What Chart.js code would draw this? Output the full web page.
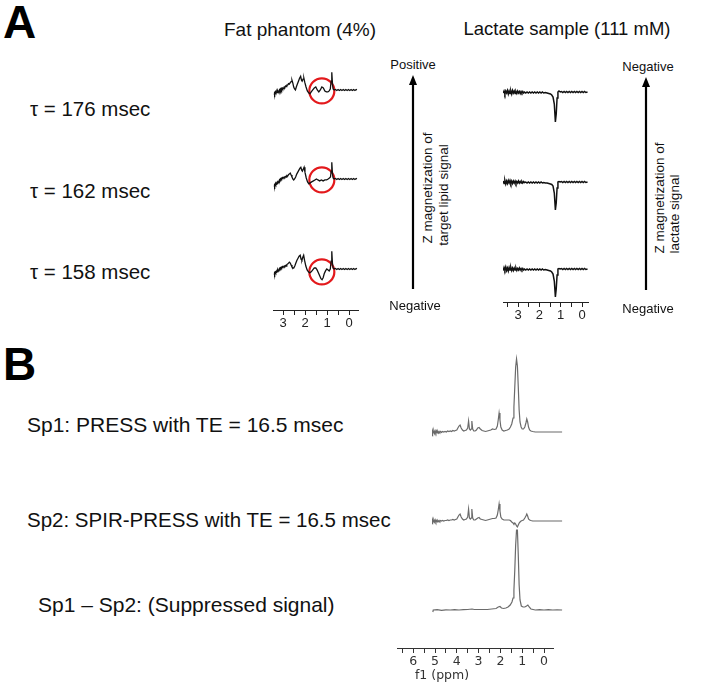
<!DOCTYPE html>
<html><head><meta charset="utf-8">
<script src="https://cdn.jsdelivr.net/npm/chart.js@4.4.0/dist/chart.umd.min.js"></script>
<style>
html,body{margin:0;padding:0;background:#fff;}
#root{position:relative;width:709px;height:683px;overflow:hidden;font-family:"Liberation Sans",Arial,sans-serif;color:#111;}
.t{position:absolute;white-space:nowrap;line-height:1;}
canvas{position:absolute;}
svg{position:absolute;left:0;top:0;}
</style></head><body><div id="root"></div>
<script>
// ---------------- DATA ----------------
const axisTicksA = [3, 2, 1, 0];
const axisTicksB = [6, 5, 4, 3, 2, 1, 0];
const tauLabels = ["τ = 176 msec", "τ = 162 msec", "τ = 158 msec"];
const sampleTitles = ["Fat phantom (4%)", "Lactate sample (111 mM)"];
const bLabels = ["Sp1: PRESS with TE = 16.5 msec", "Sp2: SPIR-PRESS with TE = 16.5 msec", "Sp1 – Sp2: (Suppressed signal)"];

// Fat phantom spectra [ppm, intensity]
const fat176 = [[3.45,-5],[3.43,-3.5],[3.41,-4.5],[3.39,-2.5],[3.37,-3.5],[3.35,-2],[3.33,-3],[3.31,-1.5],[3.29,-2.5],[3.27,-1],[3.25,-2],[3.23,-0.5],[3.21,-1.5],[3.19,0],[3.17,-1],[3.15,0.5],[3.13,-0.5],[3.11,1],[3.09,0],[3.07,1.5],[3.05,0.5],[3.03,2],[3.00,1.5],[2.97,3],[2.94,2.5],[2.91,4],[2.88,3.5],[2.85,5],[2.81,5],[2.77,6.5],[2.73,6],[2.69,7.5],[2.65,8.5],[2.61,10],[2.57,7],[2.53,3],[2.49,1],[2.45,0],[2.41,3],[2.36,6],[2.31,9],[2.26,12],[2.21,14],[2.17,10],[2.14,9],[2.10,11],[2.06,12],[2.02,8],[1.96,3],[1.90,-1],[1.84,-3],[1.78,-4],[1.72,-2],[1.65,0],[1.58,2],[1.51,3],[1.44,0],[1.37,-2],[1.30,0],[1.23,3],[1.16,2],[1.09,-1],[1.02,-2],[0.95,-2],[0.89,-1],[0.84,1],[0.80,9],[0.77,18],[0.74,7],[0.71,1],[0.66,0],[0.60,0.5],[0.54,-0.5],[0.48,0.5],[0.42,-0.5],[0.36,0.5],[0.30,-0.5],[0.24,0.5],[0.18,-0.5],[0.12,0.5],[0.06,-0.5],[0.00,0.5],[-0.06,-0.5],[-0.12,0.5],[-0.18,-0.5],[-0.24,0.5],[-0.30,-0.5],[-0.36,0.5],[-0.40,0]];
const fat162 = [[3.45,-8],[3.43,-6.5],[3.41,-7.5],[3.39,-5.5],[3.37,-6.5],[3.35,-4.5],[3.33,-5.5],[3.31,-4],[3.29,-4.5],[3.27,-3],[3.25,-3.5],[3.23,-2],[3.21,-2.5],[3.19,-1],[3.17,-1.5],[3.15,0],[3.13,-0.5],[3.11,0.5],[3.09,0],[3.07,1],[3.05,0.5],[3.03,1.5],[3.00,1],[2.97,2],[2.94,1.5],[2.91,2.5],[2.88,2],[2.85,3.5],[2.81,3],[2.77,4.5],[2.73,5],[2.69,6],[2.65,4],[2.61,2],[2.57,0],[2.53,-1],[2.49,0],[2.44,2],[2.39,5],[2.34,7],[2.29,9],[2.24,11],[2.20,12],[2.16,9],[2.13,8],[2.09,10],[2.05,12],[2.01,7],[1.95,1],[1.89,-3],[1.83,-5],[1.77,-4],[1.70,-3],[1.62,-2],[1.55,-1],[1.48,0],[1.41,-1],[1.33,-2],[1.25,-1],[1.17,-2],[1.09,-1],[1.01,-1],[0.94,0],[0.88,1],[0.83,2],[0.80,8],[0.77,17],[0.74,6],[0.71,1],[0.66,0],[0.60,0.5],[0.54,-0.5],[0.48,0.5],[0.42,-0.5],[0.36,0.5],[0.30,-0.5],[0.24,0.5],[0.18,-0.5],[0.12,0.5],[0.06,-0.5],[0.00,0.5],[-0.06,-0.5],[-0.12,0.5],[-0.18,-0.5],[-0.24,0.5],[-0.30,-0.5],[-0.36,0.5],[-0.40,0]];
const fat158 = [[3.45,-6],[3.43,-4.5],[3.41,-5.5],[3.39,-3.5],[3.37,-4.5],[3.35,-3],[3.33,-3.5],[3.31,-2],[3.29,-2.5],[3.27,-1],[3.25,-2],[3.23,-0.5],[3.21,-1],[3.19,0.5],[3.17,0],[3.15,1],[3.13,0.5],[3.11,1.5],[3.09,1],[3.07,2],[3.05,1.5],[3.03,2.5],[3.00,2],[2.97,3],[2.94,2.5],[2.91,3.5],[2.88,3],[2.85,4.5],[2.81,5],[2.77,6],[2.73,7],[2.69,6],[2.65,4],[2.61,2],[2.57,1],[2.53,1],[2.48,3],[2.43,6],[2.38,9],[2.33,11],[2.28,13],[2.23,14],[2.19,10],[2.15,9],[2.11,12],[2.07,14],[2.03,9],[1.97,3],[1.91,-1],[1.85,-3],[1.79,-4],[1.72,-3],[1.65,-1],[1.58,1],[1.51,1],[1.45,-1],[1.39,-4],[1.33,-7],[1.27,-10],[1.22,-11],[1.17,-9],[1.12,-5],[1.06,-2],[1.00,0],[0.94,-1],[0.89,-2],[0.84,0],[0.80,8],[0.77,18],[0.74,6],[0.71,1],[0.66,0],[0.60,0.5],[0.54,-0.5],[0.48,0.5],[0.42,-0.5],[0.36,0.5],[0.30,-0.5],[0.24,0.5],[0.18,-0.5],[0.12,0.5],[0.06,-0.5],[0.00,0.5],[-0.06,-0.5],[-0.12,0.5],[-0.18,-0.5],[-0.24,0.5],[-0.30,-0.5],[-0.36,0.5],[-0.40,0]];
// red circles marking the target lipid signal [ppm, intensity]
const circle176 = [[1.23,-1]];
const circle162 = [[1.23,-1]];
const circle158 = [[1.23,-3]];

// Lactate spectra [ppm, intensity]
const lac176 = [[3.70,-1],[3.66,1],[3.62,-2],[3.58,1],[3.54,-1],[3.50,1.5],[3.46,-2],[3.42,1],[3.38,-1.5],[3.34,1],[3.30,-2],[3.26,1.5],[3.22,-1],[3.18,1],[3.14,-1.5],[3.10,0.5],[3.06,-1.5],[3.02,1],[2.98,-1],[2.94,0.5],[2.90,-1.5],[2.86,0.5],[2.82,-1],[2.78,0.5],[2.74,-1],[2.70,0],[2.64,-1],[2.58,0],[2.52,-1],[2.46,0],[2.40,-1],[2.34,0],[2.28,-1],[2.22,0],[2.16,-1],[2.10,0],[2.04,-1],[1.98,0],[1.92,-1],[1.86,0],[1.80,-1],[1.72,-0.5],[1.64,-1],[1.56,-1.5],[1.48,-2],[1.42,-3],[1.36,-5],[1.30,-12],[1.25,-30],[1.21,-22],[1.17,-6],[1.13,0],[1.08,1],[1.02,0],[0.96,0.5],[0.90,-0.5],[0.84,0.5],[0.78,-0.5],[0.72,0.5],[0.66,-0.5],[0.60,0.5],[0.54,-0.5],[0.48,0.5],[0.42,-0.5],[0.36,0.5],[0.30,-0.5],[0.24,0.5],[0.18,-0.5],[0.12,0.5],[0.06,-0.5],[0.00,0.5],[-0.06,-0.5],[-0.12,0.5],[-0.18,-0.5],[-0.26,0]];
const lac162 = [[3.70,1],[3.66,-1.5],[3.62,1.5],[3.58,-2],[3.54,1],[3.50,-1.5],[3.46,1.5],[3.42,-1],[3.38,1.5],[3.34,-1.5],[3.30,1],[3.26,-1.5],[3.22,1],[3.18,-1],[3.14,1],[3.10,-1.5],[3.06,0.5],[3.02,-1],[2.98,1],[2.94,-1],[2.90,0.5],[2.86,-1],[2.82,0.5],[2.78,-1],[2.74,0.5],[2.70,-0.5],[2.64,0],[2.58,-1],[2.52,0],[2.46,-1],[2.40,0],[2.34,-1],[2.28,0],[2.22,-1],[2.16,0],[2.10,-1],[2.04,0],[1.98,-1],[1.92,0],[1.86,-1],[1.80,-0.5],[1.72,-1],[1.64,-1],[1.56,-1.5],[1.48,-2],[1.42,-2.5],[1.36,-4],[1.30,-11],[1.25,-28],[1.21,-21],[1.17,-6],[1.13,0],[1.08,0.5],[1.02,0],[0.96,0.5],[0.90,-0.5],[0.84,0.5],[0.78,-0.5],[0.72,0.5],[0.66,-0.5],[0.60,0.5],[0.54,-0.5],[0.48,0.5],[0.42,-0.5],[0.36,0.5],[0.30,-0.5],[0.24,0.5],[0.18,-0.5],[0.12,0.5],[0.06,-0.5],[0.00,0.5],[-0.06,-0.5],[-0.12,0.5],[-0.18,-0.5],[-0.26,0]];
const lac158 = [[3.70,-1.5],[3.66,1.5],[3.62,-1],[3.58,2],[3.54,-1.5],[3.50,1],[3.46,-2],[3.42,1.5],[3.38,-1],[3.34,1.5],[3.30,-1.5],[3.26,1],[3.22,-1.5],[3.18,1],[3.14,-1],[3.10,1],[3.06,-1.5],[3.02,0.5],[2.98,-1],[2.94,1],[2.90,-1],[2.86,0.5],[2.82,-1],[2.78,0.5],[2.74,-1],[2.70,0],[2.64,-1],[2.58,0],[2.52,-1],[2.46,0],[2.40,-1],[2.34,0],[2.28,-1],[2.22,0],[2.16,-1],[2.10,0],[2.04,-1],[1.98,0],[1.92,-1],[1.86,0],[1.80,-1],[1.72,-0.5],[1.64,-1],[1.56,-1.5],[1.48,-2],[1.42,-3],[1.36,-5],[1.30,-12],[1.25,-28],[1.21,-20],[1.17,-6],[1.13,0],[1.08,0.5],[1.02,0],[0.96,0.5],[0.90,-0.5],[0.84,0.5],[0.78,-0.5],[0.72,0.5],[0.66,-0.5],[0.60,0.5],[0.54,-0.5],[0.48,0.5],[0.42,-0.5],[0.36,0.5],[0.30,-0.5],[0.24,0.5],[0.18,-0.5],[0.12,0.5],[0.06,-0.5],[0.00,0.5],[-0.06,-0.5],[-0.12,0.5],[-0.18,-0.5],[-0.26,0]];

// Panel B spectra [ppm, intensity]
const sp1 = [[5.12,-4],[5.11,1],[5.08,-1],[5.05,1],[5.02,-1.5],[4.99,1],[4.96,-1],[4.93,1],[4.90,-1],[4.87,0.5],[4.84,-1],[4.81,0.5],[4.78,-0.5],[4.74,0.5],[4.70,-0.5],[4.65,0.5],[4.60,0],[4.54,0.5],[4.48,0],[4.42,1],[4.36,0.5],[4.30,1],[4.24,0.5],[4.18,1.5],[4.12,1],[4.06,1.5],[4.00,2],[3.95,4],[3.90,6],[3.85,7],[3.80,4],[3.74,2],[3.68,1],[3.62,1.5],[3.56,2],[3.50,4],[3.46,11],[3.42,3],[3.38,2],[3.34,3],[3.31,11],[3.27,3],[3.22,1],[3.16,1],[3.10,2],[3.04,4],[2.98,4.5],[2.92,3],[2.84,1.5],[2.76,1],[2.68,0.5],[2.60,1],[2.52,1.5],[2.44,2],[2.36,3],[2.28,2.5],[2.20,3],[2.14,6],[2.10,12],[2.06,19],[2.02,12],[1.98,5],[1.92,2],[1.84,1],[1.76,1.5],[1.68,2],[1.60,3],[1.54,5],[1.48,8],[1.42,14],[1.38,25],[1.34,45],[1.30,65],[1.26,73],[1.22,66],[1.18,45],[1.14,22],[1.10,10],[1.05,5],[1.00,3],[0.94,3],[0.88,5],[0.83,9],[0.79,13],[0.75,10],[0.71,5],[0.66,2],[0.60,1],[0.52,0.5],[0.40,0],[0.20,0],[0.00,0],[-0.20,0],[-0.40,0],[-0.60,0],[-0.83,0]];
const sp2 = [[5.12,-3],[5.11,1],[5.08,-1],[5.05,1],[5.02,-1],[4.99,1],[4.96,-1],[4.93,0.5],[4.90,-1],[4.87,0.5],[4.84,-0.5],[4.81,0.5],[4.78,-0.5],[4.74,0.5],[4.70,0],[4.65,0.5],[4.60,0],[4.54,0.5],[4.48,0.5],[4.42,1],[4.36,0.5],[4.30,1],[4.24,1],[4.18,1.5],[4.12,1],[4.06,1.5],[4.00,2],[3.95,4],[3.90,6],[3.85,7],[3.80,4],[3.74,2],[3.68,1],[3.62,1.5],[3.56,2],[3.50,4],[3.46,12],[3.42,3],[3.38,2],[3.34,3],[3.31,12],[3.27,3],[3.22,1],[3.16,1],[3.10,2],[3.04,3],[2.98,3.5],[2.92,2],[2.84,1.5],[2.76,1],[2.68,0.5],[2.60,1],[2.52,1.5],[2.44,2],[2.36,2.5],[2.28,2.5],[2.20,3],[2.14,6],[2.10,11],[2.06,17],[2.02,10],[1.98,4],[1.92,2],[1.84,1],[1.76,1],[1.68,1],[1.60,1],[1.54,0.5],[1.48,-1],[1.42,-2],[1.38,-3],[1.34,-2],[1.30,-3],[1.26,-5],[1.22,-6],[1.18,-4],[1.14,-2],[1.10,-1],[1.05,0],[1.00,0.5],[0.94,1],[0.88,3],[0.83,5],[0.79,7],[0.75,5],[0.71,2],[0.66,1],[0.60,0.5],[0.52,0],[0.40,0],[0.20,0],[0.00,0],[-0.20,0],[-0.40,0],[-0.60,0],[-0.83,0]];
const sp3 = [[5.10,-2],[5.08,0],[4.90,0.3],[4.70,-0.3],[4.50,0.2],[4.30,0],[4.10,0.3],[3.90,0],[3.70,0.3],[3.50,0.5],[3.30,1],[3.20,0.5],[3.00,0.5],[2.80,0.5],[2.60,0.5],[2.40,1],[2.20,1.5],[2.10,3],[2.02,3.5],[1.95,2],[1.85,1.5],[1.75,2],[1.65,3],[1.55,5],[1.47,8],[1.42,12],[1.38,20],[1.34,40],[1.30,65],[1.26,80],[1.22,80],[1.18,55],[1.14,25],[1.10,10],[1.04,4],[0.96,3],[0.88,3],[0.80,4],[0.74,5],[0.68,3],[0.60,1],[0.50,0.5],[0.40,0],[0.20,0.3],[0.00,0],[-0.20,0.3],[-0.40,0],[-0.60,0.2],[-0.83,0]];

// ---------------- LAYOUT / DRAW ----------------
const root = document.getElementById('root');
const P = 14;
const colFat = {zero: 349, ppmPx: 22};
const colLac = {zero: 582, ppmPx: 21.3};
const colB = {zero: 544, ppmPx: 21.8};

function pts(arr){ return arr.map(p => ({x: p[0], y: p[1]})); }
function lineDs(arr, color, w){ return {data: pts(arr), borderColor: color, borderWidth: w, pointRadius: 0, fill: false, tension: 0}; }
function circleDs(arr){ return {data: pts(arr), showLine: false, pointRadius: 12.5, pointStyle: 'circle', pointBorderColor: '#e3191c', pointBackgroundColor: 'rgba(0,0,0,0)', pointBorderWidth: 2.2, borderColor: '#e3191c'}; }

function addChart(cfg){
  const axisH = cfg.axis ? cfg.axis.height : 0;
  const c = document.createElement('canvas');
  const w = cfg.right - cfg.left + 2*P, h = cfg.bottom - cfg.top + 2*P + axisH;
  c.width = w; c.height = h;
  c.style.left = (cfg.left - P) + 'px'; c.style.top = (cfg.top - P) + 'px';
  c.style.width = w + 'px'; c.style.height = h + 'px';
  root.appendChild(c);
  const xMax = (cfg.col.zero - cfg.left) / cfg.col.ppmPx;
  const xMin = (cfg.col.zero - cfg.right) / cfg.col.ppmPx;
  const base = cfg.baseline === undefined ? cfg.bottom : cfg.baseline;
  const yMax = base - cfg.top, yMin = base - cfg.bottom;
  const x = {type: 'linear', reverse: true, min: xMin, max: xMax, display: !!cfg.axis};
  if (cfg.axis) {
    const a = cfg.axis;
    Object.assign(x, {
      afterFit: s => { s.height = a.height; },
      border: {display: true, color: a.color, width: 1},
      grid: {display: true, drawOnChartArea: false, drawTicks: true, tickLength: 5, color: a.color, tickWidth: 1},
      ticks: {stepSize: 0.5, autoSkip: false, maxRotation: 0, minRotation: 0, includeBounds: false, padding: 1,
        color: a.color, font: {family: a.family, size: a.size},
        callback: v => (a.labels.includes(v) ? String(v) : '')}
    });
  }
  new Chart(c, {type: 'line', data: {datasets: cfg.datasets || []}, options: {
    responsive: false, animation: false, devicePixelRatio: 1,
    layout: {padding: P},
    plugins: {legend: {display: false}, tooltip: {enabled: false}},
    scales: {x: x, y: {type: 'linear', min: yMin, max: yMax, display: false}}
  }});
}

const fontA = '"Liberation Sans", Arial, sans-serif';
const fontB = '"DejaVu Sans", Verdana, sans-serif';
// Fat spectra
addChart({col: colFat, left: 273, right: 358, top: 58, bottom: 118, baseline: 90, datasets: [lineDs(fat176, '#111', 1.3), circleDs(circle176)]});
addChart({col: colFat, left: 273, right: 358, top: 147, bottom: 207, baseline: 179, datasets: [lineDs(fat162, '#111', 1.3), circleDs(circle162)]});
addChart({col: colFat, left: 273, right: 358, top: 237, bottom: 297, baseline: 269, datasets: [lineDs(fat158, '#111', 1.3), circleDs(circle158)]});
addChart({col: colFat, left: 273, right: 358, top: 306, bottom: 310, axis: {height: 24, color: '#222', family: fontA, size: 13, labels: axisTicksA}});
// Lactate spectra
addChart({col: colLac, left: 503, right: 588, top: 70, bottom: 130, baseline: 92, datasets: [lineDs(lac176, '#111', 1.5)]});
addChart({col: colLac, left: 503, right: 588, top: 160, bottom: 220, baseline: 182, datasets: [lineDs(lac162, '#111', 1.5)]});
addChart({col: colLac, left: 503, right: 588, top: 245, bottom: 300, baseline: 269, datasets: [lineDs(lac158, '#111', 1.5)]});
addChart({col: colLac, left: 503, right: 588, top: 298, bottom: 302, axis: {height: 24, color: '#222', family: fontA, size: 13, labels: axisTicksA}});
// Panel B spectra
addChart({col: colB, left: 425, right: 566, top: 350, bottom: 445, baseline: 432, datasets: [lineDs(sp1, '#6b6b6b', 1.2)]});
addChart({col: colB, left: 425, right: 566, top: 490, bottom: 535, baseline: 521, datasets: [lineDs(sp2, '#6b6b6b', 1.2)]});
addChart({col: colB, left: 425, right: 566, top: 520, bottom: 620, baseline: 610, datasets: [lineDs(sp3, '#6b6b6b', 1.2)]});
addChart({col: colB, left: 397, right: 553, top: 644, bottom: 648, axis: {height: 22, color: '#333', family: fontB, size: 12.5, labels: axisTicksB}});

// Text
function text(str, x, y, o){
  o = o || {};
  const d = document.createElement('div');
  d.className = 't'; d.textContent = str;
  d.style.left = x + 'px'; d.style.top = y + 'px';
  d.style.fontSize = (o.size || 20) + 'px';
  if (o.weight) d.style.fontWeight = o.weight;
  if (o.family) d.style.fontFamily = o.family;
  if (o.color) d.style.color = o.color;
  const ax = o.anchor === 'left' ? '0' : '-50%';
  d.style.transform = 'translate(' + ax + ',-50%)' + (o.rotate ? ' rotate(' + o.rotate + 'deg)' : '');
  root.appendChild(d);
}
text('A', 3, 22, {size: 46, weight: 'bold', anchor: 'left', color: '#000'});
text('B', 3, 364, {size: 46, weight: 'bold', anchor: 'left', color: '#000'});
text(sampleTitles[0], 300, 29, {size: 19});
text(sampleTitles[1], 567, 29, {size: 18.5});
text(tauLabels[0], 30, 109, {size: 20.5, anchor: 'left'});
text(tauLabels[1], 30, 191, {size: 20.5, anchor: 'left'});
text(tauLabels[2], 30, 272, {size: 20.5, anchor: 'left'});
text('Positive', 413, 64, {size: 13});
text('Negative', 415, 305, {size: 13});
text('Negative', 648, 66, {size: 13});
text('Negative', 648, 308, {size: 13});
text('Z magnetization of', 428, 188, {size: 13.5, rotate: -90});
text('target lipid signal', 444, 195, {size: 13.5, rotate: -90});
text('Z magnetization of', 660, 198, {size: 13.5, rotate: -90});
text('lactate signal', 675, 214, {size: 13.5, rotate: -90});
text(bLabels[0], 27, 424, {size: 21, anchor: 'left'});
text(bLabels[1], 27, 520, {size: 20.5, anchor: 'left'});
text(bLabels[2], 38, 604, {size: 21, anchor: 'left'});
text('f1 (ppm)', 442, 675, {size: 12.5, family: fontB, color: '#333'});

// Arrows
const NS = 'http://www.w3.org/2000/svg';
const svg = document.createElementNS(NS, 'svg');
svg.setAttribute('width', 709); svg.setAttribute('height', 683);
function arrow(x, y1, y2){
  const l = document.createElementNS(NS, 'line');
  l.setAttribute('x1', x); l.setAttribute('x2', x); l.setAttribute('y1', y1); l.setAttribute('y2', y2 + 8);
  l.setAttribute('stroke', '#000'); l.setAttribute('stroke-width', 2.2);
  svg.appendChild(l);
  const p = document.createElementNS(NS, 'polygon');
  p.setAttribute('points', (x - 4) + ',' + (y2 + 10) + ' ' + x + ',' + y2 + ' ' + (x + 4) + ',' + (y2 + 10));
  p.setAttribute('fill', '#000');
  svg.appendChild(p);
}
arrow(413, 289, 75);
arrow(646, 290, 77);
root.appendChild(svg);
</script>
</body></html>
